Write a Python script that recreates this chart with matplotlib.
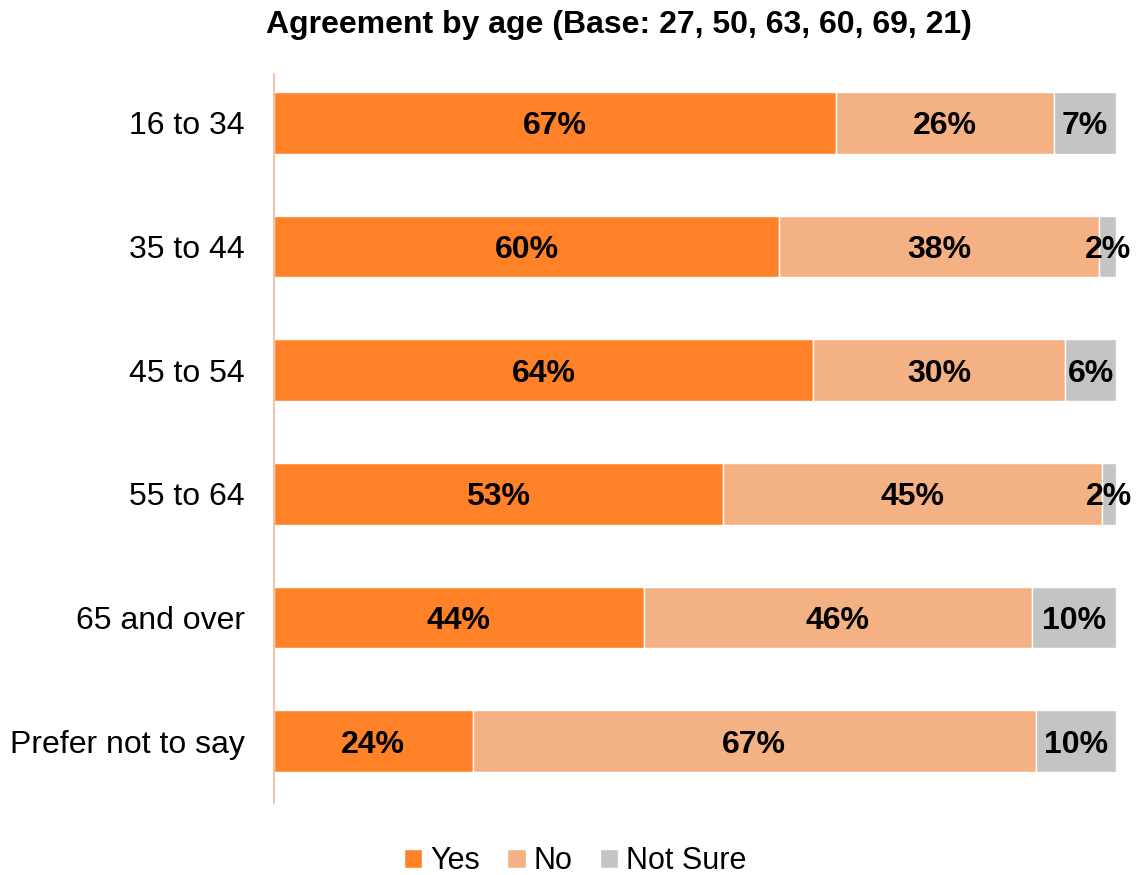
import numpy as np
import matplotlib.pyplot as plt

plt.rcParams['font.family'] = ['Liberation Sans', 'DejaVu Sans']

# данные
age_groups = ["16 to 34", "35 to 44", "45 to 54", "55 to 64", "65 and over", "Prefer not to say"]
yes_vals = [66.7, 60.0, 64.0, 53.3, 43.9, 23.6]
no_vals = [25.9, 38.0, 30.0, 45.0, 46.1, 66.9]
not_sure_vals = [7.4, 2.0, 6.0, 1.7, 10.0, 9.5]
series_names = ["Yes", "No", "Not Sure"]
colors = ["#FF8128", "#F4B183", "#C4C4C4"]

fig = plt.figure(figsize=(11.39, 8.75), dpi=100)
ax = fig.add_axes([274 / 1139, 1 - 803 / 875, (1116 - 274) / 1139, (803 - 74) / 875])

y = np.arange(len(age_groups))
left = np.zeros(len(age_groups))
for name, vals, col in zip(series_names, [yes_vals, no_vals, not_sure_vals], colors):
    vals = np.array(vals)
    ax.barh(y, vals, left=left, height=0.5, color=col, edgecolor="white", linewidth=1, label=name)
    # подписи в центре сегментов
    for yi, l, v in zip(y, left, vals):
        ax.text(l + v / 2, yi, f"{v:.0f}%", ha="center", va="center_baseline",
                fontsize=23, fontweight="bold", color="black")
    left += vals

ax.set_xlim(0, left.max())
ax.set_ylim(5.5, -0.395)
ax.set_yticks(y)
ax.set_yticklabels(age_groups, fontsize=23)
ax.tick_params(axis="y", length=0, pad=21)
ax.set_xticks([])
for s in ["top", "right", "bottom"]:
    ax.spines[s].set_visible(False)
ax.spines["left"].set_color("#F0B89A")
ax.spines["left"].set_linewidth(1.2)

fig.text(619 / 1139, 1 - 25 / 875, "Agreement by age (Base: 27, 50, 63, 60, 69, 21)",
         ha="center", va="center", fontsize=23, fontweight="bold")

fig.legend(loc="center", bbox_to_anchor=(575 / 1139, 1 - 861 / 875), ncol=3, frameon=False,
           fontsize=22, handlelength=0.6, handleheight=0.6, handletextpad=0.25, columnspacing=0.9)

fig.savefig("out.png", dpi=100)
